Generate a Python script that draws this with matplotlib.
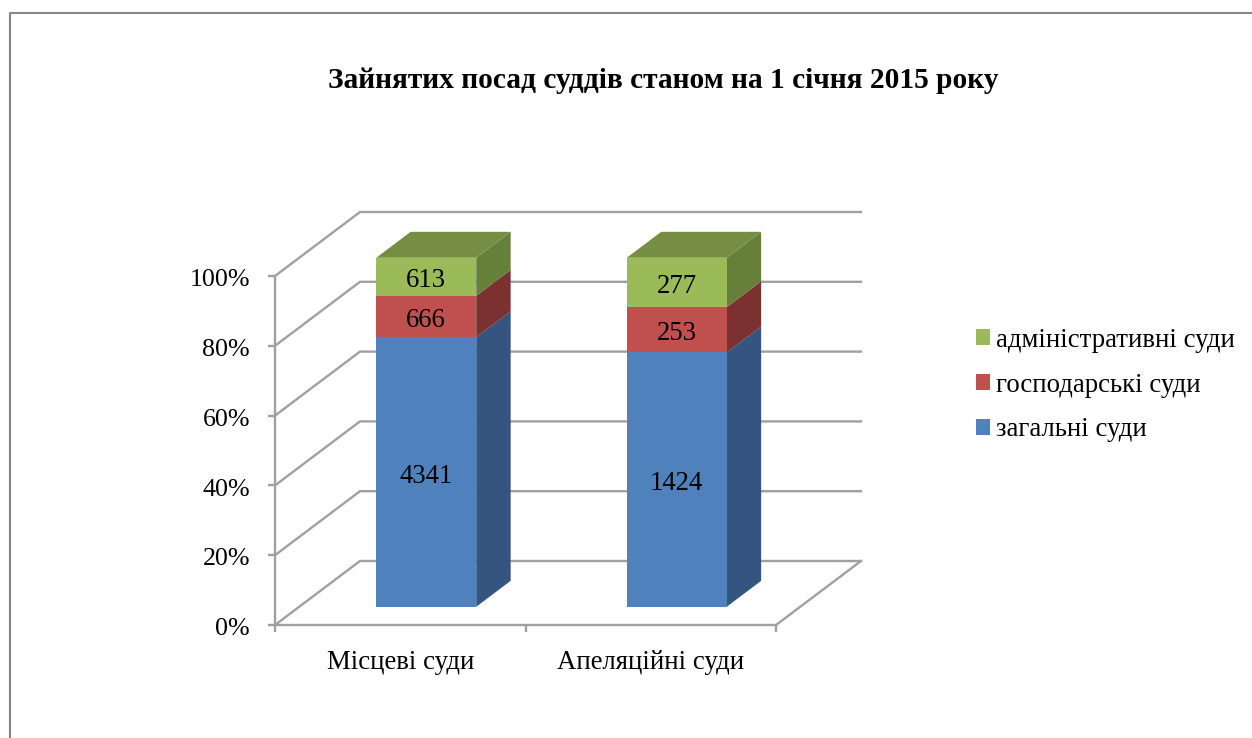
import matplotlib
matplotlib.use("Agg")
import matplotlib.pyplot as plt
from matplotlib.patches import Polygon, Patch
from matplotlib.lines import Line2D
from matplotlib.transforms import ScaledTranslation

categories = ["Місцеві суди", "Апеляційні суди"]
series_names = ["загальні суди", "господарські суди", "адміністративні суди"]
general = [4341, 1424]
commercial = [666, 253]
administrative = [613, 277]
y_ticks = [0, 20, 40, 60, 80, 100]
y_tick_labels = ["0%", "20%", "40%", "60%", "80%", "100%"]

front_colors = ["#4F81BD", "#C0504D", "#9BBB59"]
side_colors = ["#33557F", "#7A312F", "#66803A"]
top_color = "#758E43"
grid_color = "#A0A0A0"
frame_color = "#868686"

W, H = 1252, 738
plt.rcParams["font.family"] = ["Liberation Serif", "DejaVu Serif"]
fig = plt.figure(figsize=(W / 100, H / 100), dpi=100)

# plot front plane in pixels
L, R, T, B = 275.0, 776.0, 276.0, 625.0
ax = fig.add_axes([L / W, 1 - B / H, (R - L) / W, (B - T) / H])
ax.set_xlim(0, len(categories))
ax.set_ylim(0, 100)
ax.patch.set_visible(False)

ux = (R - L) / len(categories)   # px per x unit
uy = (B - T) / 100               # px per percent
DX, DY = 85 / ux, 64 / uy        # full depth of the box in data units


def proj(x, y, d):
    return (x + d * DX, y + d * DY)


lw = 1.7
# walls
for t in y_ticks:
    pts = [proj(0, t, 0), proj(0, t, 1), proj(len(categories), t, 1)]
    ax.add_line(Line2D(*zip(*pts), color=grid_color, lw=lw, clip_on=False, zorder=1,
                       solid_joinstyle="round"))
floor_right = [proj(len(categories), 0, 0), proj(len(categories), 0, 1)]
ax.add_line(Line2D(*zip(*floor_right), color=grid_color, lw=lw, clip_on=False, zorder=1))

# bars
bar_w = 100 / ux
shift = 1.75 / ux
d0, d1 = 0.285, 0.69
groups = [general, commercial, administrative]
for i in range(len(categories)):
    total = sum(g[i] for g in groups)
    x0 = i + 0.5 - bar_w / 2 + shift
    x1 = x0 + bar_w
    bottom = 0.0
    for k, g in enumerate(groups):
        top = bottom + g[i] / total * 100
        ax.add_patch(Polygon([proj(x1, bottom, d0), proj(x1, bottom, d1),
                              proj(x1, top, d1), proj(x1, top, d0)],
                             closed=True, fc=side_colors[k], ec="none",
                             clip_on=False, zorder=3))
        ax.add_patch(Polygon([proj(x0, bottom, d0), proj(x1, bottom, d0),
                              proj(x1, top, d0), proj(x0, top, d0)],
                             closed=True, fc=front_colors[k], ec="none",
                             clip_on=False, zorder=4))
        cx, cy = proj((x0 + x1) / 2, (bottom + top) / 2, d0)
        ax.annotate(str(g[i]), (cx, cy), xytext=(0, -3), textcoords="offset points",
                    ha="center", va="center", fontsize=19.3,
                    color="black", zorder=6, annotation_clip=False)
        bottom = top
    ax.add_patch(Polygon([proj(x0, 100, d0), proj(x1, 100, d0),
                          proj(x1, 100, d1), proj(x0, 100, d1)],
                         closed=True, fc=top_color, ec="none", clip_on=False, zorder=5))

# axes
for s in ("top", "right"):
    ax.spines[s].set_visible(False)
for s in ("left", "bottom"):
    ax.spines[s].set_color(grid_color)
    ax.spines[s].set_linewidth(lw)
    ax.spines[s].set_zorder(2)
ax.set_yticks(y_ticks)
ax.set_yticklabels(y_tick_labels, fontsize=18.7)
ax.tick_params(axis="y", length=5, width=lw, color=grid_color, pad=13, labelcolor="black")
for lab in ax.get_yticklabels():
    lab.set_transform(lab.get_transform() + ScaledTranslation(0, -1.2 / 72, fig.dpi_scale_trans))
ax.set_xticks(range(len(categories) + 1))
ax.set_xticklabels([""] * (len(categories) + 1))
ax.tick_params(axis="x", which="major", length=5, width=lw, color=grid_color)
ax.set_xticks([i + 0.5 for i in range(len(categories))], minor=True)
ax.set_xticklabels(categories, minor=True, fontsize=19.3)
ax.tick_params(axis="x", which="minor", length=0, pad=18)

fig.text(663.5 / W, 1 - 81 / H, "Зайнятих посад суддів станом на 1 січня 2015 року",
         ha="center", va="center", fontsize=21.2, fontweight="bold", color="black")

handles = [Patch(fc=c, ec="none") for c in reversed(front_colors)]
fig.legend(handles, list(reversed(series_names)), loc="center left",
           bbox_to_anchor=(976 / W, 1 - 385 / H), bbox_transform=fig.transFigure,
           frameon=False, fontsize=19.3, handlelength=0.52, handleheight=0.52,
           handletextpad=0.22, labelspacing=0.74, borderpad=0, borderaxespad=0)

# outer frame of the source document
fig.add_artist(Line2D([10 / W, 10 / W, 1], [0, 1 - 13 / H, 1 - 13 / H],
                      transform=fig.transFigure, color=frame_color, lw=1.5))

fig.savefig("out.png", dpi=100)
